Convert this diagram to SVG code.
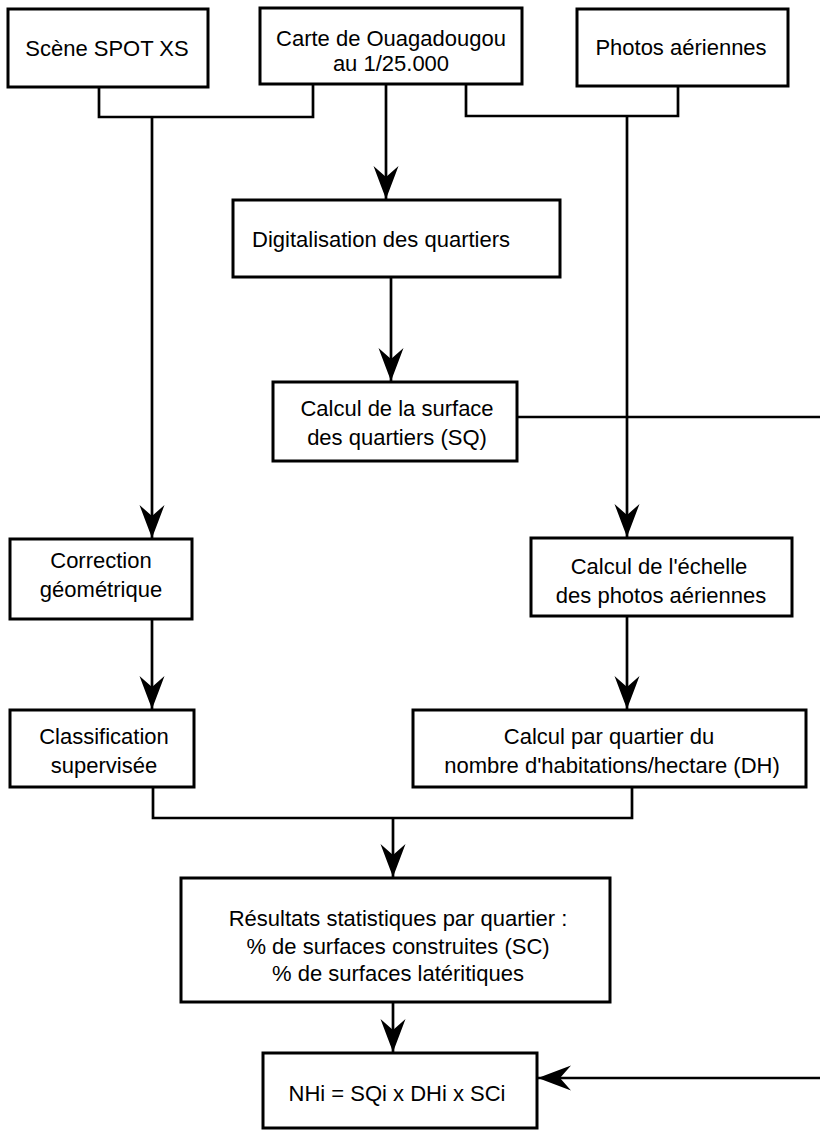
<svg xmlns="http://www.w3.org/2000/svg" width="820" height="1132" viewBox="0 0 820 1132">
  <style>
    .box { fill: #ffffff; stroke: #000000; stroke-width: 3; }
    .lbl { font-family: "Liberation Sans", Arial, Helvetica, sans-serif; font-size: 22px; fill: #000000; text-anchor: middle; }
    .lbl-left { text-anchor: start; }
    .wire { fill: none; stroke: #000000; stroke-width: 2.7; }
  </style>
  <defs>
    <marker id="arrow" markerUnits="userSpaceOnUse" viewBox="-36 -14 38 28" markerWidth="38" markerHeight="28" refX="0" refY="0" orient="auto" overflow="visible">
      <path d="M0,0 Q-13,-5 -33,-12.5 L-22,0 L-33,12.5 Q-13,5 0,0 Z" fill="#000000"/>
    </marker>
  </defs>
  <rect width="820" height="1132" fill="#ffffff"/>

  <!-- connectors -->
  <g id="connectors">
    <!-- SPOT + carte merge, down to geometric correction -->
    <path class="wire" d="M99,87 V117 H313 V84"/>
    <path class="wire" d="M152,117 V538" marker-end="url(#arrow)"/>
    <!-- carte to digitalisation -->
    <path class="wire" d="M386,84 V199" marker-end="url(#arrow)"/>
    <!-- carte + photos merge, down to scale computation -->
    <path class="wire" d="M466,84 V116 H678 V86"/>
    <path class="wire" d="M627,116 V537" marker-end="url(#arrow)"/>
    <!-- digitalisation to surface -->
    <path class="wire" d="M391,277 V381" marker-end="url(#arrow)"/>
    <!-- surface (SQ) to final formula, routed along the right edge -->
    <path class="wire" d="M517,417 H822 V1078 H538" marker-end="url(#arrow)"/>
    <!-- correction to classification -->
    <path class="wire" d="M152,619 V709" marker-end="url(#arrow)"/>
    <!-- scale to density -->
    <path class="wire" d="M627,616 V709" marker-end="url(#arrow)"/>
    <!-- classification + density merge, down to statistics -->
    <path class="wire" d="M153,787 V818 H632 V787"/>
    <path class="wire" d="M393,818 V877" marker-end="url(#arrow)"/>
    <!-- statistics to formula -->
    <path class="wire" d="M393,1002 V1052" marker-end="url(#arrow)"/>
  </g>

  <g id="spot">
    <rect class="box" x="8" y="9" width="200" height="78"/>
    <text class="lbl" x="107" y="56">Scène SPOT XS</text>
  </g>

  <g id="carte">
    <rect class="box" x="260" y="8" width="262" height="76"/>
    <text class="lbl" x="391" y="46">Carte de Ouagadougou</text>
    <text class="lbl" x="391" y="71">au 1/25.000</text>
  </g>

  <g id="photos">
    <rect class="box" x="577" y="9" width="211" height="77"/>
    <text class="lbl" x="681" y="55">Photos aériennes</text>
  </g>

  <g id="digitalisation">
    <rect class="box" x="233" y="200" width="327" height="77"/>
    <text class="lbl lbl-left" x="252" y="247">Digitalisation des quartiers</text>
  </g>

  <g id="surface">
    <rect class="box" x="273" y="382" width="244" height="79"/>
    <text class="lbl" x="397" y="416">Calcul de la surface</text>
    <text class="lbl" x="397" y="445">des quartiers (SQ)</text>
  </g>

  <g id="correction">
    <rect class="box" x="10" y="539" width="182" height="80"/>
    <text class="lbl" x="101" y="568">Correction</text>
    <text class="lbl" x="101" y="597">géométrique</text>
  </g>

  <g id="echelle">
    <rect class="box" x="531" y="538" width="261" height="78"/>
    <text class="lbl" x="659" y="574">Calcul de l'échelle</text>
    <text class="lbl" x="661" y="603">des photos aériennes</text>
  </g>

  <g id="classification">
    <rect class="box" x="10" y="710" width="184" height="77"/>
    <text class="lbl" x="104" y="744">Classification</text>
    <text class="lbl" x="104" y="773">supervisée</text>
  </g>

  <g id="densite">
    <rect class="box" x="413" y="710" width="393" height="77"/>
    <text class="lbl" x="609" y="744">Calcul par quartier du</text>
    <text class="lbl" x="612" y="773">nombre d'habitations/hectare (DH)</text>
  </g>

  <g id="resultats">
    <rect class="box" x="181" y="878" width="429" height="124"/>
    <text class="lbl" x="398" y="926">Résultats statistiques par quartier :</text>
    <text class="lbl" x="398" y="954">% de surfaces construites (SC)</text>
    <text class="lbl" x="398" y="981">% de surfaces latéritiques</text>
  </g>

  <g id="formule">
    <rect class="box" x="263" y="1053" width="274" height="75"/>
    <text class="lbl" x="397" y="1101">NHi = SQi x DHi x SCi</text>
  </g>
</svg>
